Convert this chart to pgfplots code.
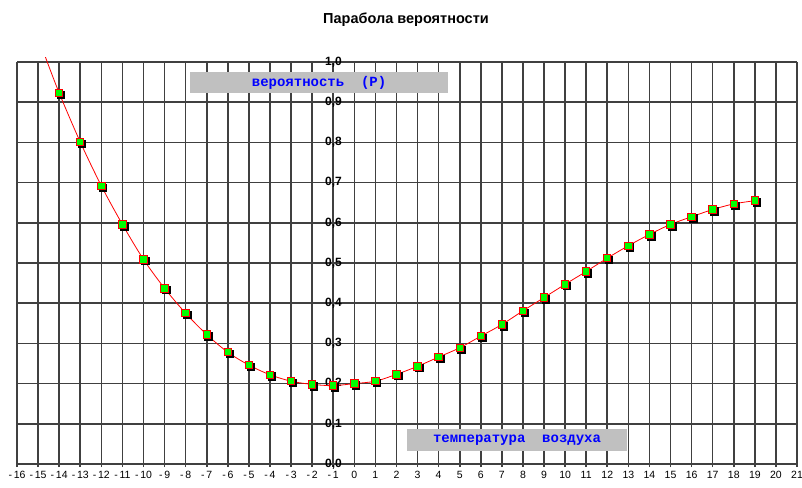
\documentclass[border=0pt]{standalone}
\usepackage{fontspec}
\setmainfont{Liberation Sans}
\newfontfamily\monob{Liberation Mono}
\usepackage{pgfplots}
\usepackage{pgfplotstable}
\pgfplotsset{compat=1.18}
\definecolor{gridc}{HTML}{404040}
\definecolor{boxgray}{HTML}{C0C0C0}
\definecolor{mkgreen}{HTML}{00FF00}
\definecolor{lblue}{HTML}{0000FF}
\pgfplotstableread{
x y
-14 0.923
-13 0.801
-12 0.692
-11 0.596
-10 0.509
-9 0.437
-8 0.375
-7 0.322
-6 0.278
-5 0.246
-4 0.222
-3 0.206
-2 0.198
-1 0.195
0 0.200
1 0.206
2 0.223
3 0.243
4 0.266
5 0.289
6 0.318
7 0.347
8 0.381
9 0.414
10 0.447
11 0.479
12 0.512
13 0.543
14 0.571
15 0.596
16 0.615
17 0.633
18 0.647
19 0.655
}\probdata
\pgfplotstableread{
x y
-14.65 1.012
-14 0.923
-13 0.801
-12 0.692
-11 0.596
-10 0.509
-9 0.437
-8 0.375
-7 0.322
-6 0.278
-5 0.246
-4 0.222
-3 0.206
-2 0.198
-1 0.195
0 0.200
1 0.206
2 0.223
3 0.243
4 0.266
5 0.289
6 0.318
7 0.347
8 0.381
9 0.414
10 0.447
11 0.479
12 0.512
13 0.543
14 0.571
15 0.596
16 0.615
17 0.633
18 0.647
19 0.655
}\linedata
\begin{document}
\begin{tikzpicture}
\useasboundingbox (0,0) rectangle (802pt,487pt);
\node[font=\bfseries\fontsize{14.5}{14.5}\selectfont] at (406pt,467pt) {Парабола вероятности};
\begin{axis}[
  at={(17pt,23pt)}, anchor=south west,
  scale only axis, width=780pt, height=402pt,
  xmin=-16, xmax=21, ymin=0, ymax=1,
  clip=false,
  axis x line=bottom, axis y line=center,
  hide obscured y ticks=false, hide obscured x ticks=false,
  axis line style={-, draw=gridc, line width=1.6pt},
  xtick={-16,...,21},
  ytick={0,0.1,0.2,0.3,0.4,0.5,0.6,0.7,0.8,0.9,1.0},
  xticklabels={-\,16,-\,15,-\,14,-\,13,-\,12,-\,11,-\,10,-\,9,-\,8,-\,7,-\,6,-\,5,-\,4,-\,3,-\,2,-\,1,0,1,2,3,4,5,6,7,8,9,10,11,12,13,14,15,16,17,18,19,20,21},
  yticklabels={{0,0},{0,1},{0,2},{0,3},{0,4},{0,5},{0,6},{0,7},{0,8},{0,9},{1,0}},
  grid=major,
  grid style={draw=gridc, line width=1.6pt},
  xtick align=center, major tick length=6pt,
  xtick style={draw=gridc, line width=1.6pt},
  ytick style={draw=none},
  xticklabel style={font=\fontsize{10.5}{10.5}\selectfont, yshift=-1pt},
  yticklabel style={font=\bfseries\fontsize{12}{12}\selectfont, xshift=-6pt},
]
\addplot[red, line width=0.8pt, smooth, tension=0.5] table[x=x,y=y] {\linedata};
\addplot[only marks, mark=square*, mark size=3.7pt,
  mark options={fill=black, draw=black, xshift=1.6pt, yshift=-1.6pt}] table[x=x,y=y] {\probdata};
\addplot[only marks, mark=square*, mark size=3.7pt,
  mark options={fill=mkgreen, draw=red, line width=1pt}] table[x=x,y=y] {\probdata};
\node[fill=boxgray, minimum width=258pt, minimum height=21pt, inner sep=0pt, text=lblue,
  font=\monob\bfseries\fontsize{14}{14}\selectfont] at (axis cs:-1.67,0.949) {вероятность\ \ (P)};
\node[fill=boxgray, minimum width=220pt, minimum height=22pt, inner sep=0pt, text=lblue,
  font=\monob\bfseries\fontsize{14}{14}\selectfont] at (axis cs:7.72,0.0597) {температура\ \ воздуха};
\end{axis}
\end{tikzpicture}
\end{document}
